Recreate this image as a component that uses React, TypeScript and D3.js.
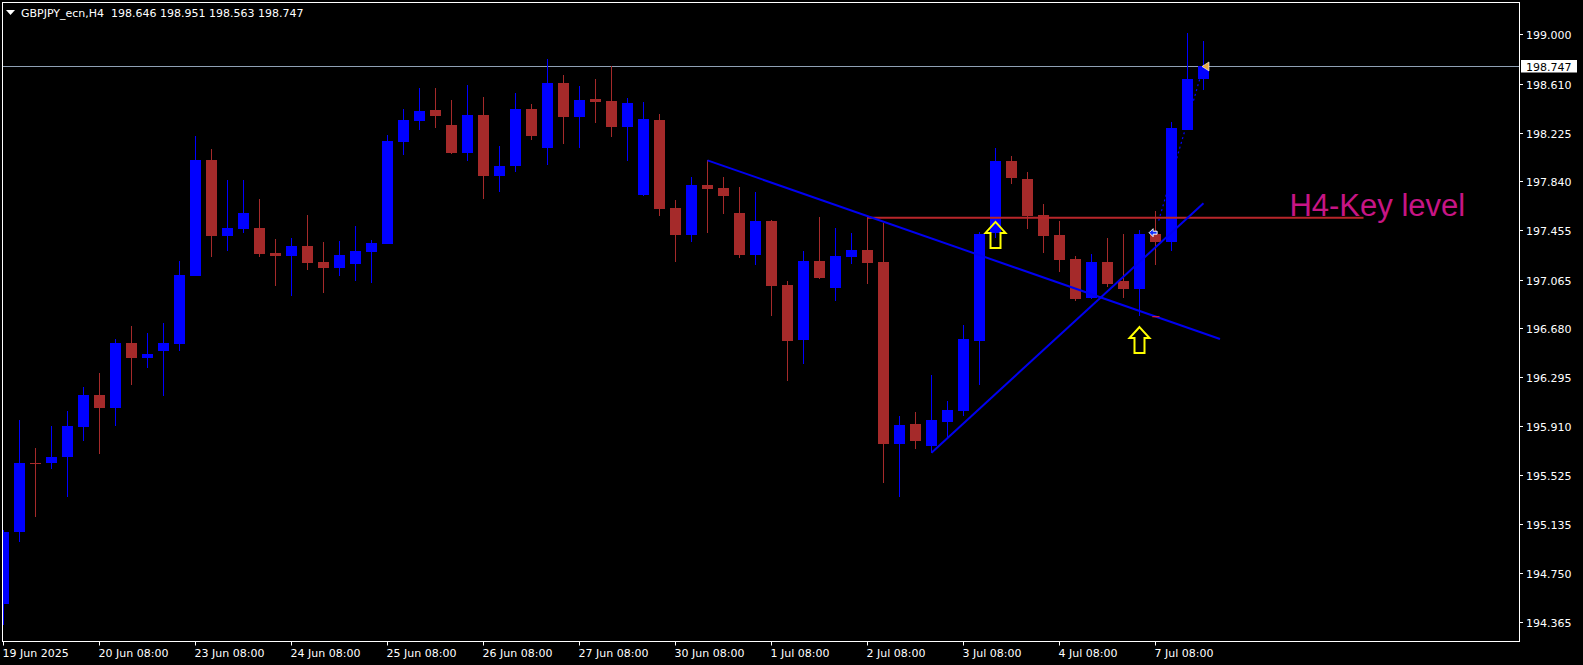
import React from "react";
import * as d3 from "d3";

const W = 1583;
const H = 665;

const titleText = "GBPJPY_ecn,H4  198.646 198.951 198.563 198.747";

// H4 candles, 19 Jun 2025 08:00 ... 7 Jul 2025 (76 bars)
const openP = [
  194.504, 195.067, 195.615, 195.612, 195.665, 195.904, 196.154, 196.054, 196.564, 196.448,
  196.501, 196.559, 197.096, 198.009, 197.411, 197.464, 197.472, 197.275, 197.253, 197.330,
  197.204, 197.159, 197.190, 197.285, 197.348, 198.153, 198.319, 198.403, 198.285, 198.066,
  198.364, 197.885, 197.964, 198.411, 198.106, 198.616, 198.350, 198.490, 198.474, 198.272,
  197.735, 198.324, 197.630, 197.419, 197.811, 197.788, 197.590, 197.261, 197.527, 197.022,
  196.590, 197.212, 197.001, 197.246, 197.298, 197.204, 195.770, 195.925, 195.754, 195.943,
  196.028, 196.583, 197.433, 198.001, 197.859, 197.575, 197.417, 197.227, 196.922, 197.204,
  197.054, 196.993, 197.427, 197.364, 198.248, 198.646,
];
const highP = [
  195.088, 195.957, 195.733, 195.909, 196.028, 196.219, 196.328, 196.594, 196.699, 196.641,
  196.722, 197.212, 198.198, 198.096, 197.851, 197.851, 197.701, 197.385, 197.393, 197.575,
  197.361, 197.369, 197.488, 197.377, 198.206, 198.411, 198.577, 198.577, 198.482, 198.601,
  198.506, 198.119, 198.537, 198.451, 198.806, 198.680, 198.593, 198.648, 198.751, 198.498,
  198.466, 198.372, 197.693, 197.875, 198.009, 197.875, 197.796, 197.756, 197.535, 197.054,
  197.290, 197.559, 197.472, 197.433, 197.559, 197.511, 195.988, 196.020, 196.312, 196.107,
  196.706, 197.440, 198.103, 198.040, 197.914, 197.664, 197.527, 197.253, 197.269, 197.393,
  197.427, 197.459, 197.609, 198.309, 199.011, 198.951,
];
const lowP = [
  194.339, 194.996, 195.193, 195.572, 195.351, 195.793, 195.691, 195.912, 196.233, 196.369,
  196.148, 196.501, 197.093, 197.246, 197.293, 197.435, 197.246, 197.017, 196.938, 197.143,
  196.961, 197.096, 197.056, 197.040, 197.346, 198.048, 198.248, 198.264, 198.058, 198.003,
  197.703, 197.758, 197.916, 198.169, 197.969, 198.137, 198.106, 198.303, 198.193, 198.003,
  197.727, 197.569, 197.206, 197.364, 197.435, 197.585, 197.238, 197.182, 196.780, 196.267,
  196.401, 197.072, 196.898, 197.190, 197.032, 195.462, 195.351, 195.730, 195.699, 195.825,
  195.988, 196.233, 197.393, 197.822, 197.466, 197.277, 197.127, 196.898, 196.912, 197.009,
  196.922, 196.780, 197.182, 197.293, 198.245, 198.563,
];
const closeP = [
  195.073, 195.615, 195.611, 195.662, 195.909, 196.154, 196.054, 196.564, 196.448, 196.478,
  196.564, 197.101, 198.009, 197.409, 197.472, 197.588, 197.269, 197.253, 197.330, 197.198,
  197.159, 197.259, 197.290, 197.354, 198.159, 198.324, 198.395, 198.358, 198.066, 198.364,
  197.885, 197.961, 198.411, 198.200, 198.616, 198.350, 198.482, 198.469, 198.272, 198.459,
  198.332, 197.624, 197.419, 197.811, 197.782, 197.727, 197.261, 197.527, 197.017, 196.583,
  197.212, 197.080, 197.251, 197.298, 197.198, 195.770, 195.917, 195.793, 195.957, 196.036,
  196.596, 197.425, 198.001, 197.869, 197.569, 197.411, 197.222, 196.914, 197.204, 197.032,
  196.993, 197.427, 197.364, 198.261, 198.648, 198.747,
];

const timeTickIdx = [0, 6, 12, 18, 24, 30, 36, 42, 48, 54, 60, 66, 72];
const timeTickLabels = [
  "19 Jun 2025", "20 Jun 08:00", "23 Jun 08:00", "24 Jun 08:00", "25 Jun 08:00",
  "26 Jun 08:00", "27 Jun 08:00", "30 Jun 08:00", "1 Jul 08:00", "2 Jul 08:00",
  "3 Jul 08:00", "4 Jul 08:00", "7 Jul 08:00",
];
const priceTicks = [
  199.0, 198.61, 198.225, 197.84, 197.455, 197.065, 196.68, 196.295, 195.91, 195.525,
  195.135, 194.75, 194.365,
];
const priceTickLabels = [
  "199.000", "198.610", "198.225", "197.840", "197.455", "197.065", "196.680", "196.295",
  "195.910", "195.525", "195.135", "194.750", "194.365",
];

const lastPrice = 198.747;
const lastPriceLabel = "198.747";

const keyLevelPrice = 197.553;
const keyLevelFromIdx = 54;
const keyLevelToIdx = 85;
const keyLabelText = "H4-Key level";
const keyLabelIdx = 80.37;
const keyLabelPrice = 197.567;

const trendDownIdx = [44, 76.03];
const trendDownPrice = [198.006, 196.596];
const trendUpIdx = [58, 75];
const trendUpPrice = [195.699, 197.667];
const dottedIdx = [72.2, 75];
const dottedPrice = [197.53, 198.75];

const arrowIdx = [62, 71];
const arrowPrice = [197.52, 196.69];

const redDashIdx = [71.8, 72.25];
const redDashPrice = 196.772;
const cursorIdx = 71.6;
const cursorPrice = 197.435;

const BULL = "#0000ff";
const BEAR = "#a52a2a";
const AXIS_FONT = "'DejaVu Sans', Verdana, sans-serif";

export default function App() {
  const x = d3.scaleLinear().domain([0, 1]).range([3.5, 19.5]);
  const y = d3.scaleLinear().domain([194.365, 199.0]).range([621.7, 34.4]);

  const plotLeft = 2.5;
  const plotRight = 1519.5;
  const plotTop = 2.5;
  const plotBottom = 641.5;

  const line = d3
    .line<[number, number]>()
    .x((d) => x(d[0]))
    .y((d) => y(d[1]));

  const ly = Math.round(y(lastPrice)) + 0.5;

  const arrowPath = (tx: number, ty: number) => {
    const pts = [
      [tx, ty],
      [tx + 10, ty + 11],
      [tx + 5, ty + 11],
      [tx + 5, ty + 26],
      [tx - 5, ty + 26],
      [tx - 5, ty + 11],
      [tx - 10, ty + 11],
    ];
    return "M" + pts.map((p) => p.join(",")).join("L") + "Z";
  };

  return (
    <div style={{ position: "fixed", left: 0, top: 0, width: W, height: H, background: "#000" }}>
      <svg width={W} height={H} style={{ display: "block" }}>
        <defs>
          <clipPath id="plotClip">
            <rect x={3} y={3} width={plotRight - 3} height={plotBottom - 3} />
          </clipPath>
        </defs>
        <rect x={0} y={0} width={W} height={H} fill="#000" />

        <g clipPath="url(#plotClip)">
          {/* current price line */}
          <line x1={plotLeft} x2={plotRight} y1={ly} y2={ly} stroke="#8fa0b4" strokeWidth={1} />

          {/* dotted line behind candles */}
          <path
            d={line([
              [dottedIdx[0], dottedPrice[0]],
              [dottedIdx[1], dottedPrice[1]],
            ]) as string}
            stroke={BULL}
            strokeWidth={1.2}
            strokeDasharray="2,3"
            fill="none"
          />

          {/* candles */}
          {openP.map((o, i) => {
            const c = closeP[i];
            const bull = c >= o;
            const col = bull ? BULL : BEAR;
            const cx = x(i);
            const yo = y(o);
            const yc = y(c);
            const top = Math.round(Math.min(yo, yc));
            const h = Math.max(1, Math.round(Math.abs(yo - yc)));
            return (
              <g key={i}>
                <line
                  x1={cx}
                  x2={cx}
                  y1={Math.round(y(highP[i]))}
                  y2={Math.round(y(lowP[i]))}
                  stroke={col}
                  strokeWidth={1}
                />
                <rect x={cx - 5.5} y={top} width={11} height={h} fill={col} />
              </g>
            );
          })}

          {/* key level */}
          <line
            x1={x(keyLevelFromIdx)}
            x2={x(keyLevelToIdx)}
            y1={y(keyLevelPrice)}
            y2={y(keyLevelPrice)}
            stroke="#b8262a"
            strokeWidth={2}
          />
          <text
            x={x(keyLabelIdx)}
            y={y(keyLabelPrice)}
            fill="#c71585"
            fontSize={31}
            fontFamily="'Liberation Sans', Arial, sans-serif"
          >
            {keyLabelText}
          </text>

          {/* trend lines */}
          <path
            d={line([
              [trendDownIdx[0], trendDownPrice[0]],
              [trendDownIdx[1], trendDownPrice[1]],
            ]) as string}
            stroke="#0000f0"
            strokeWidth={2}
            fill="none"
          />
          <path
            d={line([
              [trendUpIdx[0], trendUpPrice[0]],
              [trendUpIdx[1], trendUpPrice[1]],
            ]) as string}
            stroke="#0000f0"
            strokeWidth={2}
            fill="none"
          />

          {/* small red dash */}
          <line
            x1={x(redDashIdx[0])}
            x2={x(redDashIdx[1])}
            y1={y(redDashPrice)}
            y2={y(redDashPrice)}
            stroke="#ff2020"
            strokeWidth={1}
          />

          {/* cursor-like marker */}
          {(() => {
            const cx = x(cursorIdx);
            const cy = y(cursorPrice);
            const d = `M${cx},${cy} L${cx + 4},${cy - 4} L${cx + 4},${cy - 1.5} L${cx + 8},${cy - 1.5} L${cx + 8},${cy + 1.5} L${cx + 4},${cy + 1.5} L${cx + 4},${cy + 4} Z`;
            return <path d={d} fill="#1030ff" stroke="#ffffff" strokeWidth={1} />;
          })()}

          {/* arrows */}
          {arrowIdx.map((ai, k) => (
            <path
              key={k}
              d={arrowPath(x(ai), y(arrowPrice[k]))}
              fill="none"
              stroke="#ffff00"
              strokeWidth={2}
              strokeLinejoin="miter"
            />
          ))}

          {/* last price marker triangle */}
          {(() => {
            const tx = x(openP.length - 1) - 1.5;
            const ty = y(lastPrice);
            const d = `M${tx},${ty} L${tx + 7},${ty - 4.5} L${tx + 7},${ty + 4.5} Z`;
            return <path d={d} fill="#e8a840" stroke="#ffffff" strokeWidth={0.6} />;
          })()}
        </g>

        {/* frame */}
        <rect
          x={plotLeft}
          y={plotTop}
          width={plotRight - plotLeft}
          height={plotBottom - plotTop}
          fill="none"
          stroke="#ffffff"
          strokeWidth={1}
        />

        {/* header */}
        <path d="M6,10 L15,10 L10.5,15 Z" fill="#ffffff" />
        <text x={21} y={16.5} fill="#ffffff" fontSize={11} fontFamily={AXIS_FONT} style={{ whiteSpace: "pre" }}>
          {titleText}
        </text>

        {/* price axis */}
        {priceTicks.map((p, i) => {
          const ty = Math.round(y(p)) + 0.5;
          return (
            <g key={i}>
              <line x1={plotRight} x2={plotRight + 3.5} y1={ty} y2={ty} stroke="#ffffff" strokeWidth={1} />
              <text x={1526} y={ty + 4} fill="#ffffff" fontSize={11} fontFamily={AXIS_FONT}>
                {priceTickLabels[i]}
              </text>
            </g>
          );
        })}
        <rect x={1521} y={ly - 6.5} width={56} height={12.5} fill="#ffffff" />
        <text x={1526} y={ly + 4} fill="#000000" fontSize={11} fontFamily={AXIS_FONT}>
          {lastPriceLabel}
        </text>

        {/* time axis */}
        {timeTickIdx.map((ti, k) => {
          const tx = x(ti);
          return (
            <g key={k}>
              <line x1={tx} x2={tx} y1={plotBottom} y2={plotBottom + 4} stroke="#ffffff" strokeWidth={1} />
              <text x={tx - 1} y={656.5} fill="#ffffff" fontSize={11} fontFamily={AXIS_FONT}>
                {timeTickLabels[k]}
              </text>
            </g>
          );
        })}
      </svg>
    </div>
  );
}
